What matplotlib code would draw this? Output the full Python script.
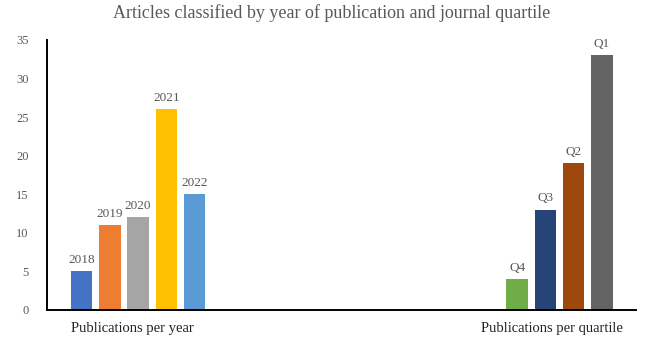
import matplotlib.pyplot as plt

# datos
anos = ["2018", "2019", "2020", "2021", "2022"]
pub_ano = [5, 11, 12, 26, 15]
cores_ano = ["#4472C4", "#ED7D31", "#A5A5A5", "#FFC000", "#5B9BD5"]

quartis = ["Q4", "Q3", "Q2", "Q1"]
pub_quartil = [4, 13, 19, 33]
cores_quartil = ["#70AD47", "#264478", "#9E480E", "#636363"]

grupos = ["Publications per year", "Publications per quartile"]
yticks = [0, 5, 10, 15, 20, 25, 30, 35]

plt.rcParams['font.family'] = ['Liberation Serif', 'DejaVu Serif']
cinza = '#595959'

W, H = 654, 339
fig = plt.figure(figsize=(W / 100, H / 100), dpi=100)
x0, x1, y0, y1 = 46.7, 636, 310, 40
ax = fig.add_axes([x0 / W, 1 - y0 / H, (x1 - x0) / W, (y0 - y1) / H])
ax.set_xlim(x0, x1)
ax.set_ylim(0, 35)

passo = 28.2
largura = 21.5
pos_ano = [81.7 + i * passo for i in range(len(anos))]
pos_quartil = [517.2 + i * passo for i in range(len(quartis))]

for xs, vals, labs, cores in [(pos_ano, pub_ano, anos, cores_ano),
                              (pos_quartil, pub_quartil, quartis, cores_quartil)]:
    barras = ax.bar(xs, vals, width=largura, color=cores, zorder=2)
    for b, lab in zip(barras, labs):
        ax.annotate(lab, (b.get_x() + b.get_width() / 2, b.get_height()),
                    xytext=(0, 4), textcoords='offset points',
                    ha='center', va='bottom', fontsize=9.5, color=cinza)

ax.set_yticks(yticks)
ax.set_yticklabels([str(v) for v in yticks], fontsize=9, color=cinza)
ax.tick_params(axis='y', length=0, pad=13)
ax.set_xticks([])
for s in ['top', 'right']:
    ax.spines[s].set_visible(False)
ax.spines['left'].set_linewidth(1.4)
ax.spines['bottom'].set_linewidth(1.4)

# rotulos das categorias
ax.text(132, -1.5, grupos[0], ha='center', va='top', fontsize=10.5, color='#222222')
ax.text(552, -1.5, grupos[1], ha='center', va='top', fontsize=10.5, color='#222222')

fig.text(332 / W, 1 - 13 / H, "Articles classified by year of publication and journal quartile",
         ha='center', va='center', fontsize=13, color=cinza)

plt.savefig("out.png", dpi=100)
